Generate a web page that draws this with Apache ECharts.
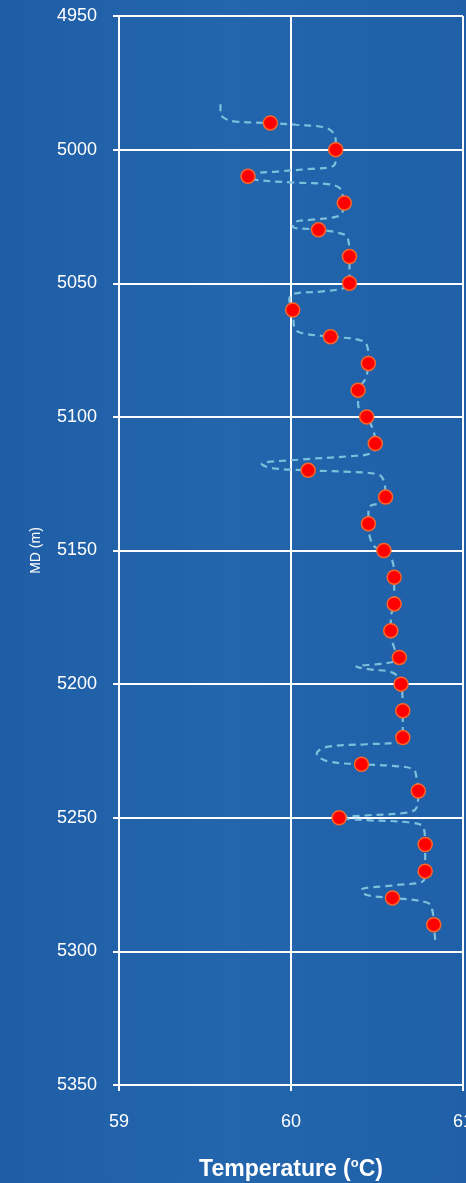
<!DOCTYPE html>
<html>
<head>
<meta charset="utf-8">
<script src="https://cdn.jsdelivr.net/npm/echarts@6/dist/echarts.min.js"></script>
<style>
  html, body { margin: 0; padding: 0; background: #2163a9; }
  #chart { width: 466px; height: 1183px; }
</style>
</head>
<body>
<div id="chart"></div>
<script>
// 测点 - 深度 / 温度
const depths = [4990, 5000, 5010, 5020, 5030, 5040, 5050, 5060, 5070, 5080, 5090, 5100, 5110, 5120, 5130, 5140, 5150, 5160, 5170, 5180, 5190, 5200, 5210, 5220, 5230, 5240, 5250, 5260, 5270, 5280, 5290]
const temps = [59.88, 60.26, 59.75, 60.31, 60.16, 60.34, 60.34, 60.01, 60.23, 60.45, 60.39, 60.44, 60.49, 60.10, 60.55, 60.45, 60.54, 60.60, 60.60, 60.58, 60.63, 60.64, 60.65, 60.65, 60.41, 60.74, 60.28, 60.78, 60.78, 60.59, 60.83]

// 连续温度曲线 (虚线)
const profileDepth = [4983.0, 4986.3, 4988.5, 4989.5, 4990.1, 4990.7, 4991.6, 4993.3, 4996.4, 5000.0, 5003.8, 5006.3, 5007.2, 5008.2, 5008.8, 5010.1, 5011.3, 5012.3, 5012.9, 5014.2, 5016.9, 5020.0, 5023.2, 5025.0, 5026.3, 5027.1, 5028.8, 5030.0, 5031.2, 5033.1, 5040.0, 5050.0, 5051.8, 5053.1, 5054.0, 5056.2, 5060.0, 5066.7, 5068.6, 5070.0, 5071.1, 5073.0, 5078.0, 5080.0, 5086.1, 5090.0, 5095.4, 5100.0, 5105.4, 5110.0, 5113.5, 5114.7, 5116.0, 5117.6, 5119.1, 5120.0, 5120.6, 5121.6, 5124.1, 5130.0, 5132.2, 5133.4, 5135.9, 5140.0, 5145.3, 5148.8, 5150.0, 5154.0, 5160.0, 5165.2, 5170.0, 5175.2, 5180.0, 5186.4, 5190.0, 5191.4, 5192.4, 5193.5, 5194.5, 5195.7, 5200.0, 5210.0, 5220.0, 5221.9, 5222.5, 5223.5, 5226.0, 5228.8, 5230.0, 5230.6, 5231.9, 5235.0, 5240.0, 5246.2, 5248.1, 5249.1, 5250.0, 5250.9, 5251.8, 5253.7, 5260.0, 5270.0, 5273.6, 5275.2, 5277.0, 5278.9, 5280.0, 5281.7, 5284.2, 5290.0, 5296.7]
const profileTemp = [59.59, 59.59, 59.62, 59.68, 59.88, 60.03, 60.19, 60.24, 60.26, 60.26, 60.26, 60.24, 60.11, 59.92, 59.80, 59.75, 59.80, 60.01, 60.21, 60.28, 60.30, 60.31, 60.30, 60.27, 60.11, 60.02, 60.01, 60.16, 60.28, 60.33, 60.34, 60.34, 60.31, 60.17, 60.01, 59.99, 60.01, 60.02, 60.06, 60.23, 60.39, 60.44, 60.45, 60.45, 60.43, 60.39, 60.39, 60.44, 60.48, 60.49, 60.47, 60.34, 60.05, 59.83, 59.88, 60.10, 60.34, 60.51, 60.54, 60.55, 60.52, 60.46, 60.45, 60.45, 60.46, 60.49, 60.54, 60.59, 60.60, 60.60, 60.60, 60.58, 60.58, 60.60, 60.63, 60.61, 60.52, 60.38, 60.46, 60.59, 60.64, 60.65, 60.65, 60.61, 60.44, 60.21, 60.15, 60.21, 60.41, 60.59, 60.71, 60.73, 60.74, 60.73, 60.67, 60.44, 60.28, 60.44, 60.69, 60.77, 60.78, 60.78, 60.77, 60.61, 60.41, 60.44, 60.59, 60.79, 60.82, 60.83, 60.84]

const font = '"Liberation Sans Narrow", "Arial Narrow", "Liberation Sans", Arial, sans-serif'

const myChart = echarts.init(document.getElementById('chart'))
myChart.setOption({
  backgroundColor: new echarts.graphic.LinearGradient(0, 0, 1, 0, [
    { offset: 0, color: '#1f5ea6' },
    { offset: 0.5, color: '#2366ad' },
    { offset: 1, color: '#1f60a8' }
  ]),
  animation: false,
  grid: {
    left: 119,
    top: 16,
    width: 344,
    height: 1069,
    containLabel: false,
    outerBoundsMode: 'none'
  },
  xAxis: {
    type: 'value',
    min: 59,
    max: 61,
    interval: 1,
    name: '{b|Temperature (}{s|o}{b|C)}',
    nameLocation: 'middle',
    nameGap: 72,
    nameTextStyle: {
      rich: {
        b: { color: '#ffffff', fontSize: 23, fontWeight: 'bold', fontFamily: font, lineHeight: 26 },
        s: { color: '#ffffff', fontSize: 13, fontWeight: 'bold', fontFamily: font, verticalAlign: 'top', lineHeight: 26 }
      }
    },
    axisLine: { show: true, lineStyle: { color: '#ffffff', width: 2 } },
    axisTick: { show: true, length: 6, lineStyle: { color: '#ffffff', width: 2 } },
    splitLine: { show: true, lineStyle: { color: '#ffffff', width: 2 } },
    axisLabel: {
      color: '#ffffff',
      fontSize: 18,
      fontFamily: font,
      margin: 28,
      formatter: v => String(v)
    }
  },
  yAxis: {
    type: 'value',
    inverse: true,
    min: 4950,
    max: 5350,
    interval: 50,
    name: 'MD (m)',
    nameLocation: 'middle',
    nameRotate: 90,
    nameGap: 76,
    nameTextStyle: { color: '#ffffff', fontSize: 14, fontFamily: font },
    axisLine: { show: true, lineStyle: { color: '#ffffff', width: 2 } },
    axisTick: { show: true, length: 6, lineStyle: { color: '#ffffff', width: 2 } },
    splitLine: { show: true, lineStyle: { color: '#ffffff', width: 2 } },
    axisLabel: {
      color: '#ffffff',
      fontSize: 18,
      fontFamily: font,
      margin: 22,
      formatter: v => String(v)
    }
  },
  series: [
    {
      name: 'profile',
      type: 'line',
      smooth: 0.4,
      symbol: 'none',
      z: 3,
      lineStyle: { color: '#7cc0dc', width: 2.2, type: [7, 5] },
      data: profileTemp.map((t, i) => [t, profileDepth[i]])
    },
    {
      name: 'points',
      type: 'scatter',
      symbolSize: 14,
      z: 4,
      itemStyle: { color: '#ff0000', borderColor: '#ff6428', borderWidth: 1.5, opacity: 1 },
      data: temps.map((t, i) => [t, depths[i]])
    }
  ]
})
</script>
</body>
</html>
